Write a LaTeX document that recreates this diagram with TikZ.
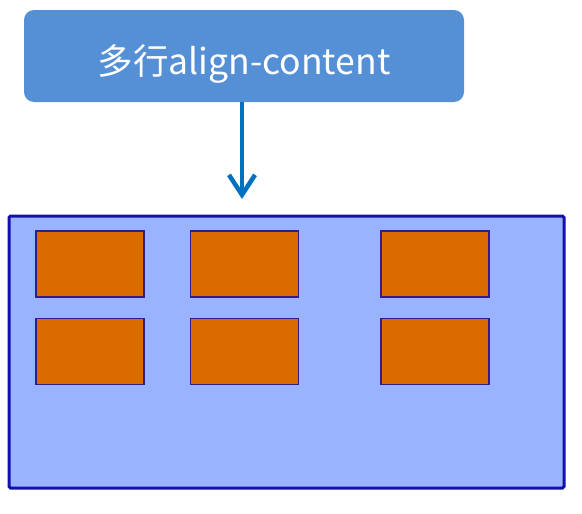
\documentclass[tikz,border=0pt]{standalone}
\usepackage{fontspec}
\setmainfont{Noto Sans CJK SC}
\usetikzlibrary{arrows.meta,positioning}
\definecolor{titleblue}{RGB}{85,144,214}
\definecolor{arrowblue}{RGB}{0,112,192}
\definecolor{boxfill}{RGB}{153,179,255}
\definecolor{boxline}{RGB}{20,16,170}
\definecolor{itemfill}{RGB}{219,106,0}
\definecolor{itemline}{RGB}{48,28,140}

\begin{document}
\begin{tikzpicture}[x=1pt,y=-1pt,
  every node/.style={inner sep=0pt,outer sep=0pt},
  titlebox/.style={fill=titleblue,rounded corners=10pt,minimum width=440pt,
    minimum height=92pt,text=white,font=\fontsize{35.5}{40}\selectfont},
  item/.style={fill=itemfill,draw=itemline,line width=1.8pt,
    minimum width=108pt,minimum height=66pt},
  flow/.style={-{Straight Barb[length=20pt,width=26pt]},arrowblue,line width=4.5pt}]
  \useasboundingbox (0,0) rectangle (582,514);
  % title and arrow
  \node[titlebox] (title) at (244,56)
    {\raisebox{-19pt}[0pt][0pt]{多行align-content}};
  \coordinate (tip) at (242,199);
  \draw[flow] (title.south -| tip) -- (tip);

  % container
  \draw[fill=boxfill,draw=boxline,line width=3pt,rounded corners=1.5pt]
    (9,216) rectangle (564,488);

  % items, two lines
  \node[item] (a1) at (90,264) {};
  \node[item] (a2) at (244.5,264) {};
  \node[item] (a3) at (435,264) {};
  \node[item] (b1) at (90,351.5) {};
  \node[item] (b2) at (244.5,351.5) {};
  \node[item] (b3) at (435,351.5) {};
\end{tikzpicture}
\end{document}
